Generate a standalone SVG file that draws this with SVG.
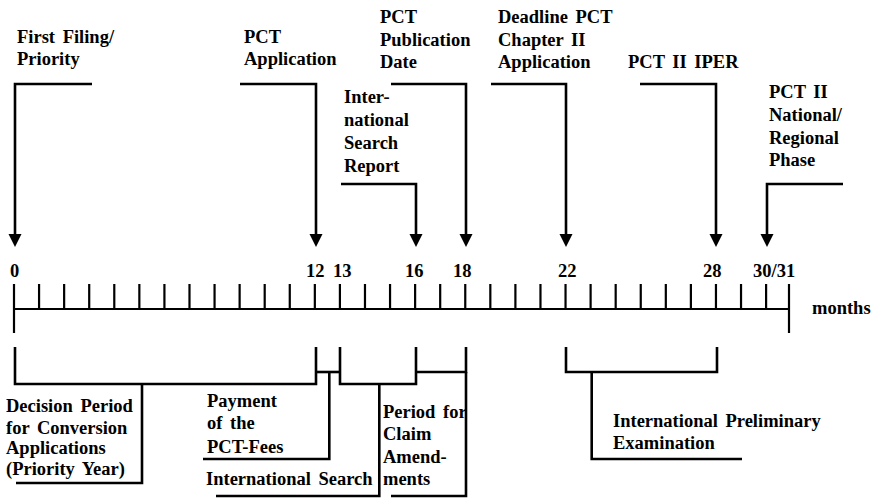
<svg xmlns="http://www.w3.org/2000/svg" width="874" height="500" viewBox="0 0 874 500">
<style>
text{font-family:"Liberation Serif","Times New Roman",serif;font-weight:bold;font-size:18.5px;word-spacing:3px;fill:#000}
.ln{fill:none;stroke:#000;stroke-width:2.6;stroke-linejoin:miter}
.tk{stroke:#000;stroke-width:2.2}
</style>
<defs>
<marker id="ah" markerUnits="userSpaceOnUse" markerWidth="14" markerHeight="14" refX="6" refY="6.5" orient="auto">
<path d="M0,0 L13,6.5 L0,13 z" fill="#000"/>
</marker>
</defs>
<rect width="874" height="500" fill="#fff"/>

<g id="connectors">
<path class="ln" d="M92,84 H15 V240" marker-end="url(#ah)"/>
<path class="ln" d="M240,84 H316 V240" marker-end="url(#ah)"/>
<path class="ln" d="M341,184 H416 V240" marker-end="url(#ah)"/>
<path class="ln" d="M391,84 H466 V240" marker-end="url(#ah)"/>
<path class="ln" d="M491,84 H566 V240" marker-end="url(#ah)"/>
<path class="ln" d="M640,84 H716 V240" marker-end="url(#ah)"/>
<path class="ln" d="M843,184 H767 V240" marker-end="url(#ah)"/>
</g>

<g id="n-first-filing"><text x="17" y="43">First Filing/</text><text x="17" y="65">Priority</text></g>
<g id="n-pct-application"><text x="244" y="43">PCT</text><text x="244" y="65">Application</text></g>
<g id="n-pct-publication"><text x="380" y="23">PCT</text><text x="380" y="45.5">Publication</text><text x="380" y="68">Date</text></g>
<g id="n-isr"><text x="344" y="103">Inter-</text><text x="344" y="126">national</text><text x="344" y="149">Search</text><text x="344" y="172">Report</text></g>
<g id="n-deadline"><text x="498" y="23">Deadline PCT</text><text x="498" y="45.5">Chapter II</text><text x="498" y="68">Application</text></g>
<g id="n-iper"><text x="628" y="68">PCT II IPER</text></g>
<g id="n-national"><text x="769" y="98">PCT II</text><text x="769" y="121">National/</text><text x="769" y="143.5">Regional</text><text x="769" y="166">Phase</text></g>

<g id="timeline">
<line class="tk" x1="14" y1="309" x2="789" y2="309"/>
<line class="tk" x1="14" y1="284" x2="14" y2="333"/>
<line class="tk" x1="789" y1="284" x2="789" y2="333"/>
<path class="tk" d="M39.07,284V309 M64.14,284V309 M89.21,284V309 M114.28,284V309 M139.35,284V309 M164.42,284V309 M189.49,284V309 M214.56,284V309 M239.63,284V309 M264.7,284V309 M289.77,284V309 M314.84,284V309 M339.91,284V309 M364.98,284V309 M390.05,284V309 M415.12,284V309 M440.19,284V309 M465.26,284V309 M490.33,284V309 M515.4,284V309 M540.47,284V309 M565.54,284V309 M590.61,284V309 M615.68,284V309 M640.75,284V309 M665.82,284V309 M690.89,284V309 M715.96,284V309 M741.03,284V309 M766.1,284V309"/>
<text x="10" y="277">0</text>
<text x="306" y="277">12</text>
<text x="333" y="277">13</text>
<text x="405" y="277">16</text>
<text x="453" y="277">18</text>
<text x="558" y="277">22</text>
<text x="703" y="277">28</text>
<text x="753" y="277">30/31</text>
<text x="812" y="314">months</text>
</g>

<g id="b-decision">
<path class="ln" d="M15,347 V384 H316 V347"/>
<path class="ln" d="M142,384 V483 H16"/>
<text x="6" y="412">Decision Period</text><text x="6" y="433.5">for Conversion</text><text x="6" y="454">Applications</text><text x="6" y="475">(Priority Year)</text>
</g>
<g id="b-payment">
<path class="ln" d="M316,372 H340"/>
<path class="ln" d="M329.3,372 V459 H203"/>
<text x="207" y="406.5">Payment</text><text x="207" y="429">of the</text><text x="207" y="452.5">PCT-Fees</text>
</g>
<g id="b-search">
<path class="ln" d="M340,347 V384 H416 V347"/>
<path class="ln" d="M379.3,384 V496 H216"/>
<text x="206" y="485">International Search</text>
</g>
<g id="b-claims">
<path class="ln" d="M416,372 H466 V347"/>
<path class="ln" d="M466,372 V496 H391"/>
<text x="383" y="418">Period for</text><text x="383" y="440">Claim</text><text x="383" y="463">Amend-</text><text x="383" y="485">ments</text>
</g>
<g id="b-ipe">
<path class="ln" d="M566,347 V372 H717 V347"/>
<path class="ln" d="M591.7,372 V459 H742"/>
<text x="613" y="427">International Preliminary</text><text x="613" y="449">Examination</text>
</g>
</svg>
